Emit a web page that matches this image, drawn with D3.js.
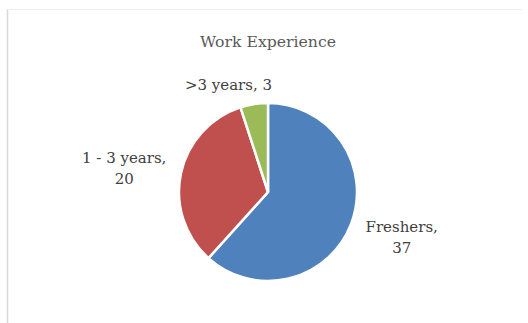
<!DOCTYPE html>
<html><head><meta charset="utf-8">
<script src="https://cdn.jsdelivr.net/npm/d3@7"></script>
<style>html,body{margin:0;padding:0;background:#fff;}svg{display:block;}</style>
</head><body>
<svg id="c" width="528" height="323"></svg>
<script>
const categories = ["Freshers", "1 - 3 years", ">3 years"];
const values = [37, 20, 3];
const colors = ["#4F81BD", "#C0504D", "#9BBB59"];
const title = "Work Experience";

const W = 528, H = 323;
const svg = d3.select("#c");
const font = "'DejaVu Serif', serif";
const fs = 15;

// frame
svg.append("line").attr("x1", 7.5).attr("y1", 9).attr("x2", 7.5).attr("y2", H).attr("stroke", "#d9d9d9").attr("stroke-width", 1.5);
svg.append("line").attr("x1", 7).attr("y1", 9.5).attr("x2", W - 6).attr("y2", 9.5).attr("stroke", "#eeeeee").attr("stroke-width", 1);

svg.append("text").attr("x", 268).attr("y", 47).attr("text-anchor", "middle")
  .attr("font-family", font).attr("font-size", 15.7).attr("fill", "#595959").text(title);

const cx = 268, cy = 192, r = 89;
const data = categories.map((c, i) => ({ cat: c, val: values[i], col: colors[i] }));
const pie = d3.pie().value(d => d.val).sort(null);
const arcs = pie(data);
const arc = d3.arc().innerRadius(0).outerRadius(r);
const g = svg.append("g").attr("transform", `translate(${cx},${cy})`);
g.selectAll("path").data(arcs).join("path")
  .attr("d", arc).attr("fill", d => d.data.col)
  .attr("stroke", "#fff").attr("stroke-width", 2.5).attr("stroke-linejoin", "miter");

// label layout (radius and nudge per slice)
const labelR = [140, 146, 112];
const nudge = [[3, -10], [-1, 1], [-22, 9]];
const lineH = 21;
arcs.forEach((d, i) => {
  const la = d3.arc().innerRadius(labelR[i]).outerRadius(labelR[i]);
  const [x, y] = la.centroid(d);
  const tx = x + nudge[i][0], ty = y + nudge[i][1];
  const t = g.append("text").attr("text-anchor", "middle")
    .attr("font-family", font).attr("font-size", fs).attr("fill", "#404040");
  if (i === 2) {
    t.append("tspan").attr("x", tx).attr("y", ty).text(`${d.data.cat}, ${d.data.val}`);
  } else {
    t.append("tspan").attr("x", tx).attr("y", ty).text(`${d.data.cat},`);
    t.append("tspan").attr("x", tx).attr("y", ty + lineH).text(`${d.data.val}`);
  }
});
</script>
</body></html>
